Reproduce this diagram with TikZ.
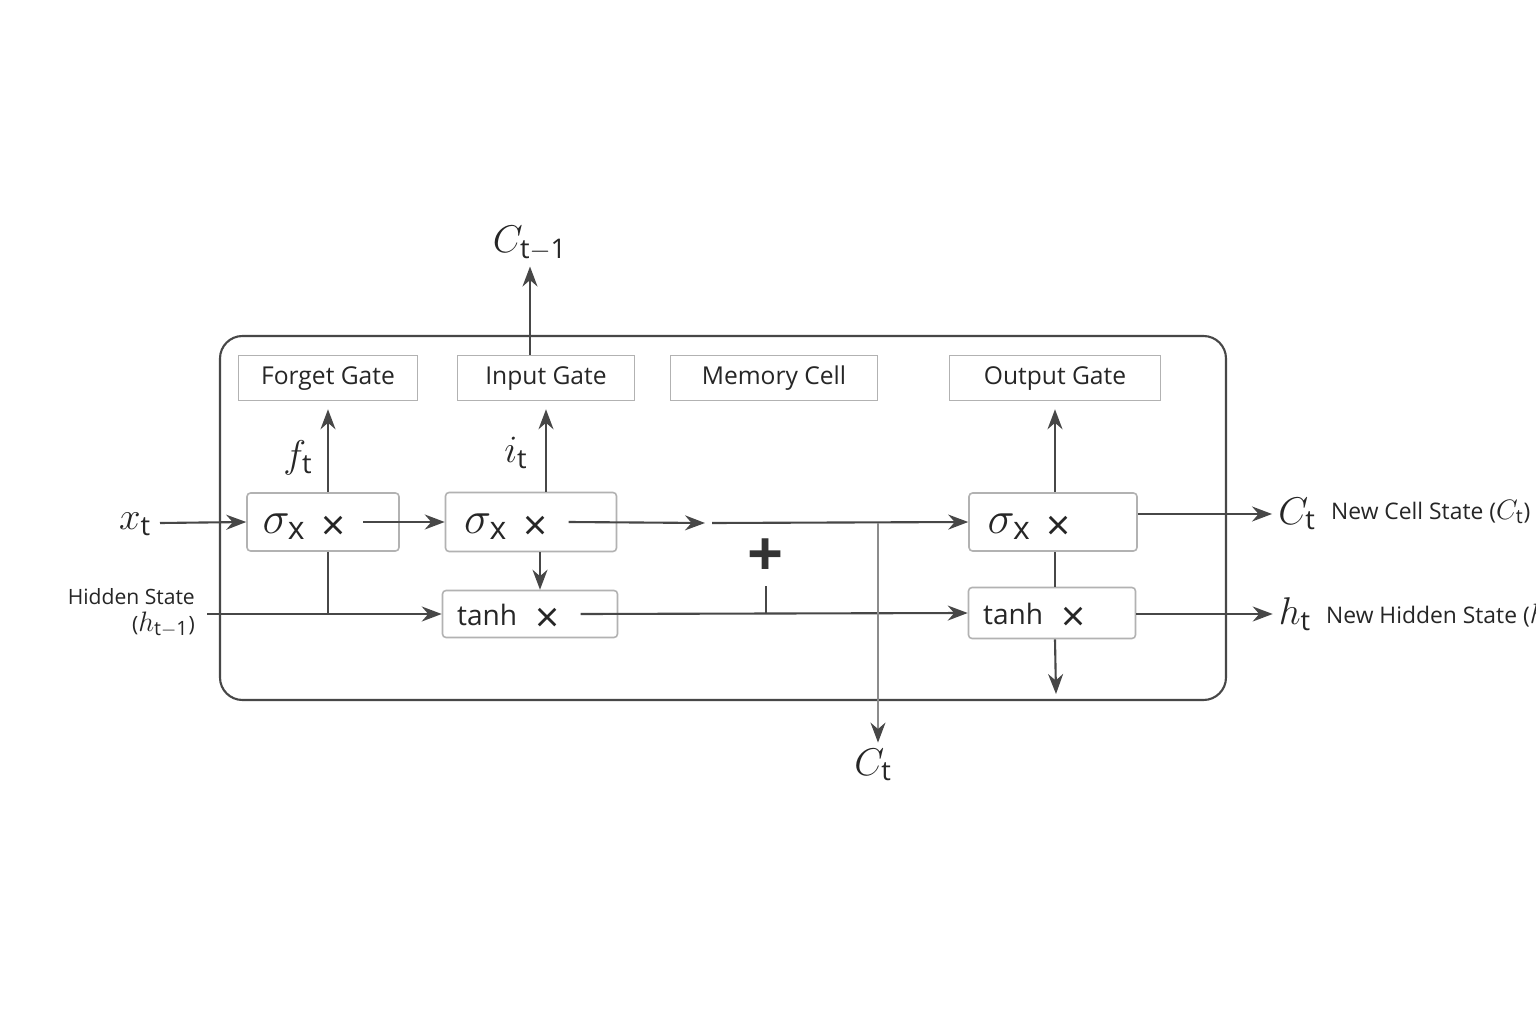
\RequirePackage{fix-cm}
\documentclass[tikz,border=0pt]{standalone}
\usepackage{fontspec}
\setmainfont{Open Sans}
\usepackage{amsmath}
\usetikzlibrary{arrows.meta, positioning, calc}

\newcommand{\opcross}{\raisebox{-0.15cm}{\fontsize{24}{24}\selectfont ×}}
\newcommand{\sidemath}[1]{{\fontsize{16}{16}\selectfont$#1$}}

\begin{document}
\begin{tikzpicture}[
    x=0.02cm, y=-0.02cm,
    >={Stealth[length=0.4cm, width=0.3cm]},
    wire/.style={draw=black!72, line width=1.2pt},
    thinwire/.style={draw=black!45, line width=0.7pt},
    frame/.style={draw=black!72, line width=1.2pt, rounded corners=0.45cm},
    gatelabel/.style={rectangle, draw=black!30, line width=0.9pt, minimum height=0.9cm,
                      text height=1.6ex, text depth=0.2ex,
                      font=\fontsize{14}{16}\selectfont, text=black!85},
    opbox/.style={rectangle, draw=black!30, line width=0.9pt, rounded corners=2pt},
    sigtext/.style={anchor=base west, inner sep=0pt, font=\fontsize{26}{28}\selectfont, text=black!85},
    tanhtext/.style={anchor=base west, inner sep=0pt, font=\fontsize{16}{18}\selectfont, text=black!85},
    mathlabel/.style={font=\fontsize{22}{24}\selectfont, text=black!85},
    sidetext/.style={font=\fontsize{12}{15}\selectfont, text=black!85},
    newtext/.style={anchor=west, font=\fontsize{13}{15}\selectfont, text=black!85}
]
\useasboundingbox[fill=white] (0,0) rectangle (1536,1024);
\draw[frame] (220,336) rectangle (1226,700);

\node[gatelabel, minimum width=3.58cm] (forget) at (328,378) {Forget Gate};
\node[gatelabel, minimum width=3.54cm] (input) at (546,378) {Input Gate};
\node[gatelabel, minimum width=4.14cm] (memory) at (774,378) {Memory Cell};
\node[gatelabel, minimum width=4.22cm] (output) at (1055,378) {Output Gate};

\node[opbox, minimum width=3.04cm, minimum height=1.16cm] (sig1) at (323,522) {};
\node[opbox, minimum width=3.42cm, minimum height=1.18cm] (sig2) at (531,522) {};
\node[opbox, minimum width=3.36cm, minimum height=1.16cm] (sig3) at (1053,522) {};
\node[opbox, minimum width=3.5cm, minimum height=0.94cm] (tanh1) at (530,614) {};
\node[opbox, minimum width=3.34cm, minimum height=1.02cm] (tanh3) at (1052,613) {};
\foreach \b/\s in {sig1/0.32, sig2/0.38, sig3/0.38} {
    \node[sigtext] (\b-t) at ([xshift=\s cm, yshift=-0.22cm]\b.west) {$\sigma_{\mathrm{x}}$\hspace{0.32cm}\opcross};
}
\foreach \b/\s in {tanh1/0.3, tanh3/0.3} {
    \node[tanhtext] (\b-t) at ([xshift=\s cm, yshift=-0.22cm]\b.west) {tanh\hspace{0.36cm}\opcross};
}

\node[mathlabel] (xt) at (135,524) {$x_{\mathrm{t}}$};
\node[sidetext, align=right, anchor=east] (hprev) at (201,613) {Hidden State\\(\sidemath{h_{\mathrm{t-1}}})};
\node[mathlabel] (cprev) at (530,243) {$C_{\mathrm{t-1}}$};
\node[mathlabel] (ft) at (298,458) {$f_{\mathrm{t}}$};
\node[mathlabel] (it) at (516,453) {$i_{\mathrm{t}}$};
\node[font=\fontsize{36}{36}\selectfont\bfseries, text=black!80] (plus) at (766,558) {+};
\node[mathlabel] (ctdown) at (873,765) {$C_{\mathrm{t}}$};
\node[mathlabel] (ctnew) at (1297,514) {$C_{\mathrm{t}}$};
\node[newtext] (ctnewtext) at (1325,512) {New Cell State (\sidemath{C_{\mathrm{t}}})};
\node[mathlabel] (htnew) at (1295,614) {$h_{\mathrm{t}}$};
\node[newtext] (htnewtext) at (1320,616) {New Hidden State (\sidemath{h_{\mathrm{t}}})};

\coordinate (xin) at (160,523);
\coordinate (hin) at (207,614);
\coordinate (cgap1) at (705,523);
\coordinate (cgap2) at (712,523);
\coordinate (ctop) at (878,523);
\coordinate (plusstem) at (766,586);
\coordinate (hdown) at (1056,694);

\draw[wire, ->] (xin) -- (sig1.west);
\draw[wire, ->] (hin) -- (tanh1.west);
\draw[wire] (sig1.south -| forget) -- (hin -| forget);
\draw[wire, ->, shorten >=0.16cm] (forget |- sig1.north) -- (forget.south);
\draw[wire, ->, shorten >=0.16cm] (input |- sig2.north) -- (input.south);
\draw[wire, ->, shorten >=0.16cm] (output |- sig3.north) -- (output.south);
\draw[wire, ->] (cprev |- input.north) -- (cprev.south);
\draw[wire, ->] ([xshift=0.34cm]sig1-t.east |- sig1) -- (sig2.west);
\draw[wire, ->] ([xshift=0.42cm]sig2-t.east |- sig2) -- (cgap1);
\draw[wire, ->] (cgap2) -- (sig3.west);
\draw[wire, ->] ([xshift=0.42cm]tanh1-t.east |- hin) -- (tanh3.west);
\draw[wire, ->] ([xshift=0.18cm]sig2.south) -- ([xshift=0.18cm]sig2.south |- tanh1.north);
\draw[wire] (plusstem) -- (plusstem |- hin);
\draw[thinwire, -{Stealth[length=0.4cm, width=0.3cm, color=black!72]}] (ctop) -- (ctop |- ctdown.north);
\draw[wire] (sig3.south -| output) -- (tanh3.north -| output);
\draw[wire, ->] (tanh3.south -| output) -- (hdown);
\draw[wire, ->] (sig3.east |- ctnew) -- (ctnew.west);
\draw[wire, ->] (tanh3.east |- htnew) -- (htnew.west);
\end{tikzpicture}
\end{document}
